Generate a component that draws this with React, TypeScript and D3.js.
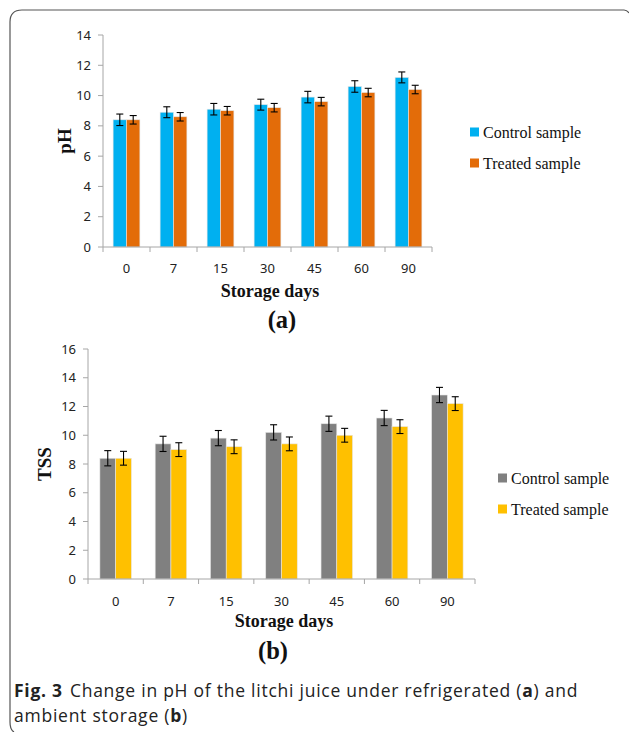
import React from "react";
import * as d3 from "d3";

const days = ["0", "7", "15", "30", "45", "60", "90"];
const phControl = [8.4, 8.9, 9.1, 9.4, 9.9, 10.6, 11.2];
const phTreated = [8.4, 8.6, 9.0, 9.2, 9.6, 10.2, 10.4];
const phControlErr = [0.38, 0.36, 0.38, 0.36, 0.38, 0.38, 0.36];
const phTreatedErr = [0.28, 0.28, 0.28, 0.28, 0.28, 0.28, 0.28];
const phTicks = [0, 2, 4, 6, 8, 10, 12, 14];

const tssControl = [8.4, 9.4, 9.8, 10.2, 10.8, 11.2, 12.8];
const tssTreated = [8.4, 9.0, 9.2, 9.4, 10.0, 10.6, 12.2];
const tssControlErr = [0.53, 0.53, 0.53, 0.53, 0.53, 0.53, 0.53];
const tssTreatedErr = [0.48, 0.48, 0.48, 0.48, 0.48, 0.48, 0.48];
const tssTicks = [0, 2, 4, 6, 8, 10, 12, 14, 16];

const seriesNames = ["Control sample", "Treated sample"];

const AXIS = "#a6a6a6";
const TICKFONT = "'Noto Sans', 'Open Sans', sans-serif";
const SERIF = "'Liberation Serif', 'DejaVu Serif', serif";

type PanelProps = {
  x0: number; x1: number; yTop: number; yBottom: number; yMax: number;
  ticks: number[]; control: number[]; treated: number[];
  controlErr: number[]; treatedErr: number[]; colors: string[];
  yTitle: string; yTitleX: number; legendX: number; legendY: number;
  labelY: number; titleY: number; titleX: number; letter: string; letterX: number; letterY: number;
};

function Panel(p: PanelProps) {
  const x = d3.scaleBand<string>().domain(days).range([p.x0, p.x1]).padding(0);
  const inner = d3.scaleBand<string>().domain(["c", "t"]).range([x.bandwidth() * 0.215, x.bandwidth() * 0.785]).padding(0);
  const y = d3.scaleLinear().domain([0, p.yMax]).range([p.yBottom, p.yTop]);
  const boundaries = days.map((d) => x(d)!).concat([p.x1]);
  const cap = 3.5;
  const series = [
    { key: "c", vals: p.control, err: p.controlErr, color: p.colors[0] },
    { key: "t", vals: p.treated, err: p.treatedErr, color: p.colors[1] },
  ];
  return (
    <g>
      {series.map((s) =>
        days.map((d, i) => {
          const bx = x(d)! + inner(s.key)!;
          const bw = inner.bandwidth();
          return (
            <rect key={s.key + d} x={bx} y={y(s.vals[i])} width={bw} height={y(0) - y(s.vals[i])}
              fill={s.color} stroke="#e6e6e6" strokeWidth={0.6} />
          );
        })
      )}
      {series.map((s) =>
        days.map((d, i) => {
          const cx = x(d)! + inner(s.key)! + inner.bandwidth() / 2;
          const hi = y(s.vals[i] + s.err[i]);
          const lo = y(s.vals[i] - s.err[i]);
          return (
            <g key={"e" + s.key + d} stroke="#000" strokeWidth={1.1}>
              <line x1={cx} x2={cx} y1={hi} y2={lo} />
              <line x1={cx - cap} x2={cx + cap} y1={hi} y2={hi} />
              <line x1={cx - cap} x2={cx + cap} y1={lo} y2={lo} />
            </g>
          );
        })
      )}
      <line x1={p.x0} x2={p.x0} y1={p.yTop} y2={p.yBottom} stroke={AXIS} strokeWidth={1} />
      {p.ticks.map((t) => (
        <g key={"yt" + t}>
          <line x1={p.x0 - 5} x2={p.x0} y1={y(t)} y2={y(t)} stroke={AXIS} />
          <text x={p.x0 - 12} y={y(t)} dy="0.35em" textAnchor="end" fontFamily={TICKFONT} fontSize={13} fill="#222">{t}</text>
        </g>
      ))}
      <line x1={p.x0} x2={p.x1} y1={p.yBottom} y2={p.yBottom} stroke={AXIS} strokeWidth={1} />
      {boundaries.map((b, i) => (
        <line key={"xt" + i} x1={b} x2={b} y1={p.yBottom} y2={p.yBottom + 5} stroke={AXIS} />
      ))}
      {days.map((d) => (
        <text key={"xl" + d} x={x(d)! + x.bandwidth() / 2} y={p.labelY} dy="0.35em" textAnchor="middle"
          fontFamily={TICKFONT} fontSize={13} fill="#222">{d}</text>
      ))}
      <text x={p.titleX} y={p.titleY} dy="0.35em" textAnchor="middle" fontFamily={SERIF} fontWeight="bold" fontSize={18} fill="#111">Storage days</text>
      <text x={p.letterX} y={p.letterY} dy="0.35em" textAnchor="middle" fontFamily={SERIF} fontWeight="bold" fontSize={24.5} fill="#111">{p.letter}</text>
      <text transform={`translate(${p.yTitleX},${(p.yTop + p.yBottom) / 2}) rotate(-90)`} dy="0.35em" textAnchor="middle"
        fontFamily={SERIF} fontWeight="bold" fontSize={19} fill="#111">{p.yTitle}</text>
      {seriesNames.map((n, i) => (
        <g key={"lg" + n} transform={`translate(${p.legendX},${p.legendY + i * 31})`}>
          <rect x={0} y={-4.5} width={9} height={9} fill={p.colors[i]} />
          <text x={13} y={0} dy="0.35em" fontFamily={SERIF} fontSize={16} fill="#111">{n}</text>
        </g>
      ))}
    </g>
  );
}

export default function App() {
  return (
    <svg width={629} height={732} style={{ position: "absolute", left: 0, top: 0, background: "#fff" }}>
      <rect x={0} y={0} width={629} height={732} fill="#fff" />
      <path d="M629,13 Q627,10 624,10 L22,10 Q10,10 10,22 L10,722 Q10,730 14,732" fill="none" stroke="#555" strokeWidth={1.2} />
      <Panel x0={103} x1={432} yTop={35} yBottom={247} yMax={14} ticks={phTicks}
        control={phControl} treated={phTreated} controlErr={phControlErr} treatedErr={phTreatedErr}
        colors={["#00b0f0", "#e36c09"]} yTitle="pH" yTitleX={64}
        legendX={470} legendY={132} labelY={268} titleY={291} titleX={270}
        letter="(a)" letterX={282} letterY={319} />
      <Panel x0={88} x1={475} yTop={349} yBottom={579} yMax={16} ticks={tssTicks}
        control={tssControl} treated={tssTreated} controlErr={tssControlErr} treatedErr={tssTreatedErr}
        colors={["#808080", "#ffc000"]} yTitle="TSS" yTitleX={44}
        legendX={498} legendY={478} labelY={601} titleY={621} titleX={284}
        letter="(b)" letterX={273} letterY={650} />
      <text x={14} y={697} fontFamily="'Open Sans', 'Noto Sans', sans-serif" fontSize={17.5} letterSpacing={0.75} fill="#222">
        <tspan fontWeight="bold">Fig. 3</tspan>
        <tspan dx={7}>Change in pH of the litchi juice under refrigerated (</tspan>
        <tspan fontWeight="bold">a</tspan>
        <tspan>) and</tspan>
      </text>
      <text x={14} y={722} fontFamily="'Open Sans', 'Noto Sans', sans-serif" fontSize={17.5} letterSpacing={0.75} fill="#222">
        <tspan>ambient storage (</tspan>
        <tspan fontWeight="bold">b</tspan>
        <tspan>)</tspan>
      </text>
    </svg>
  );
}
